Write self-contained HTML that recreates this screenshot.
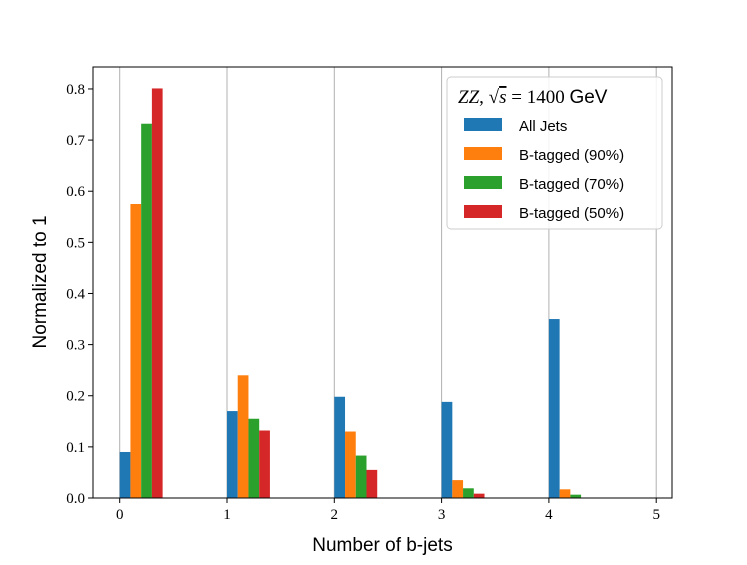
<!DOCTYPE html>
<html><head><meta charset="utf-8"><style>
body{margin:0;background:#fff;}
svg text{font-family:"Liberation Serif",serif;fill:#000;}
.sans{font-family:"Liberation Sans",sans-serif !important;}
</style></head><body>
<svg id="chart" width="747" height="560">
<g id="grid"></g><g id="bars"></g><g id="axes"></g>
</svg>
<script>
const categories=[0,1,2,3,4,5];
const seriesNames=["All Jets","B-tagged (90%)","B-tagged (70%)","B-tagged (50%)"];
const allJets=[0.090,0.170,0.198,0.188,0.350,0];
const btag90=[0.575,0.240,0.130,0.035,0.017,0];
const btag70=[0.732,0.155,0.083,0.019,0.0065,0];
const btag50=[0.801,0.132,0.055,0.0085,0,0];
const yTicks=[0,0.1,0.2,0.3,0.4,0.5,0.6,0.7,0.8];
const xTicks=[0,1,2,3,4,5];
const colors=["#1f77b4","#ff7f0e","#2ca02c","#d62728"];
const series=[allJets,btag90,btag70,btag50];
const ns="http://www.w3.org/2000/svg";
const L=93,R=672,T=67,B=498;
const xs=v=>119.7+v*107.3;
const ys=v=>B-v*511.3;
function mk(tag,attrs,parent,txt){const e=document.createElementNS(ns,tag);for(const k in attrs)e.setAttribute(k,attrs[k]);if(txt!==undefined)e.textContent=txt;parent.appendChild(e);return e;}
const svg=document.getElementById('chart');
const grid=document.getElementById('grid'),bars=document.getElementById('bars'),axes=document.getElementById('axes');
xTicks.forEach(t=>{
 const g=mk('line',{x1:xs(t),x2:xs(t),y1:T,y2:B,stroke:'#b0b0b0','stroke-width':1},grid);
 
 
 const tk=mk('line',{x1:xs(t),x2:xs(t),y1:B,y2:B+5,stroke:'#000','stroke-width':1},axes);
 
 
 const lb=mk('text',{x:xs(t),y:B+21,'text-anchor':'middle','font-size':15},axes,String(t));
 
 
});
yTicks.forEach(t=>{
 const tk=mk('line',{x1:L-5,x2:L,y1:ys(t),y2:ys(t),stroke:'#000','stroke-width':1},axes);
 
 
 const lb=mk('text',{x:L-8,y:ys(t)+5,'text-anchor':'end','font-size':15},axes,t.toFixed(1));
 
 
});
series.forEach((s,si)=>{
 s.forEach((v,ci)=>{
  if(v<=0)return;
  const x0=xs(categories[ci]+si*0.1),x1=xs(categories[ci]+(si+1)*0.1);
  const r=mk('rect',{x:x0,y:ys(v),width:x1-x0,height:B-ys(v),fill:colors[si]},bars);
  
  
 });
});
const frame=mk('rect',{x:L,y:T,width:R-L,height:B-T,fill:'none',stroke:'#000','stroke-width':1},axes);


const xt=mk('text',{x:(L+R)/2,y:551,'text-anchor':'middle','font-size':19,class:'sans'},axes,'Number of b-jets');


const yt=mk('text',{x:0,y:0,transform:'translate(46,282) rotate(-90)','text-anchor':'middle','font-size':19,class:'sans'},axes,'Normalized to 1');


const lg=mk('g',{},axes);


mk('rect',{x:447,y:77,width:215,height:152,rx:4,fill:'#fff','fill-opacity':0.85,stroke:'#ccc'},lg);
const lt=mk('text',{x:458,y:103,'font-size':19},lg);


lt.innerHTML='<tspan font-style="italic">ZZ</tspan>, √<tspan font-style="italic" text-decoration="overline">s</tspan> = 1400 <tspan class="sans" style="font-family:Liberation Sans,sans-serif">GeV</tspan>';
seriesNames.forEach((n,i)=>{
 const y=125+i*29;
 const sw=mk('rect',{x:464,y:y-7,width:38,height:13,fill:colors[i]},lg);
 
 
 const tx=mk('text',{x:519,y:y+6,'font-size':15,class:'sans'},lg,n);
 
 
});
</script>
</body></html>
